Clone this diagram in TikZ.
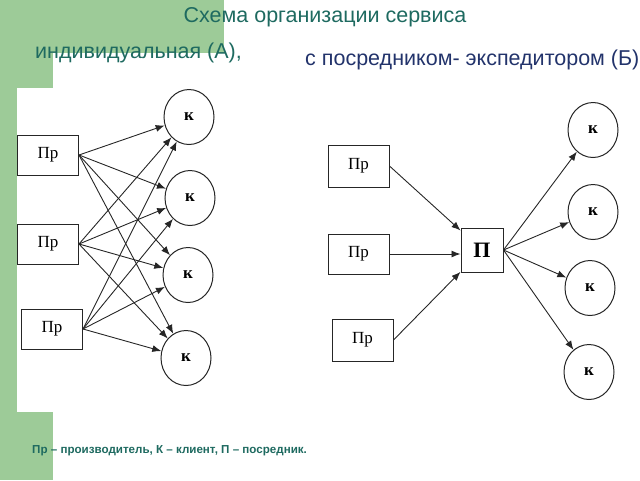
\documentclass[tikz,border=0pt]{standalone}
\usepackage{fontspec}
\setmainfont{Liberation Serif}
\newfontfamily\sansf{Liberation Sans}
\usetikzlibrary{shapes.geometric,arrows.meta}
\definecolor{bggreen}{HTML}{9DCB98}
\definecolor{tealtxt}{HTML}{1E6A60}
\definecolor{navytxt}{HTML}{22336B}
\definecolor{ink}{HTML}{262626}
\begin{document}
\begin{tikzpicture}[x=1pt,y=-1pt,
  prbox/.style={draw=ink, line width=1pt, minimum width=61pt, minimum height=40pt, inner sep=0pt, font=\fontsize{17}{17}\selectfont},
  pbox/.style={draw=ink, line width=1pt, minimum width=42pt, minimum height=44pt, inner sep=0pt, font=\bfseries\fontsize{22}{22}\selectfont},
  knode/.style={draw=ink, ellipse, line width=1pt, minimum width=50pt, minimum height=55pt, inner sep=0pt, font=\bfseries\fontsize{17}{17}\selectfont},
  arr/.style={draw=ink, line width=0.9pt, -{Latex[length=9pt,width=7pt]}},
  ttl/.style={font=\sansf\fontsize{21.5}{21.5}\selectfont, inner sep=0pt}]
\useasboundingbox (0,0) rectangle (640,480);
\fill[bggreen] (0,0) rectangle (224,53);
\fill[bggreen] (0,53) rectangle (53,88);
\fill[bggreen] (0,88) rectangle (17,412);
\fill[bggreen] (0,412) rectangle (53,480);

\node[ttl, text=tealtxt] (title) at (325,17) {Схема организации сервиса};
\node[ttl, text=tealtxt, anchor=west] (ta) at (35,53) {индивидуальная (А),};
\node[ttl, text=navytxt, anchor=west] (tb) at (305,60) {с посредником- экспедитором (Б)};
\node[font=\sansf\bfseries\fontsize{11.6}{11.6}\selectfont, text=tealtxt, anchor=west, inner sep=0pt] (legend) at (32,451) {Пр – производитель, К – клиент, П – посредник.};

% left diagram
\node[prbox, fill=white] (L1) at (48,155) {Пр};
\node[prbox, fill=white] (L2) at (48,244) {Пр};
\node[prbox] (L3) at (52,329) {Пр};
\node[knode] (K1) at (189,117) {к};
\node[knode] (K2) at (190,198) {к};
\node[knode] (K3) at (188,275) {к};
\node[knode] (K4) at (186,358) {к};
\foreach \s in {L1,L2,L3}{
  \foreach \t in {K1,K2,K3,K4}{
    \draw[arr] (\s.east) -- (\t);
  }
}

% right diagram
\node[prbox, minimum height=42pt] (R1) at (358.5,166) {Пр};
\node[prbox] (R2) at (358.5,254) {Пр};
\node[prbox, minimum height=42pt] (R3) at (362.5,340) {Пр};
\node[pbox] (P) at (482,250) {П};
\node[knode] (Q1) at (593,130) {к};
\node[knode] (Q2) at (593,212) {к};
\node[knode] (Q3) at (590,288) {к};
\node[knode] (Q4) at (589,372) {к};
\draw[arr] (R1.east) -- (P);
\draw[arr] (R2.east) -- (R2.east -| P.west);
\draw[arr] (R3.east) -- (P);
\foreach \t in {Q1,Q2,Q3,Q4}{
  \draw[arr] (P.east) -- (\t);
}
\end{tikzpicture}
\end{document}
